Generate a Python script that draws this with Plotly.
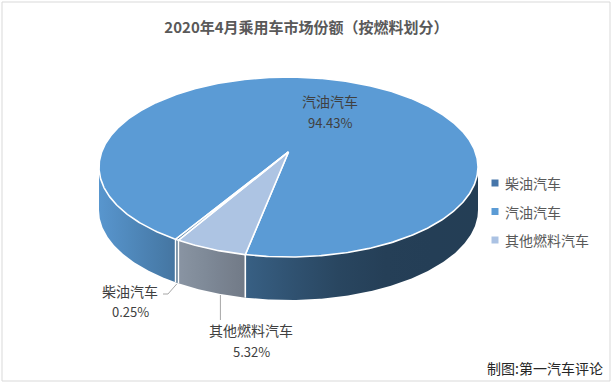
import numpy as np
import plotly.graph_objects as go

# ---------------- data ----------------
categories = ["柴油汽车", "汽油汽车", "其他燃料汽车"]
shares = [0.25, 94.43, 5.32]
value_labels = ["0.25%", "94.43%", "5.32%"]
title_text = "2020年4月乘用车市场份额（按燃料划分）"
source_text = "制图:第一汽车评论"

# ---------------- style ----------------
top_colors = ["#41719c", "#5b9bd5", "#adc4e3"]
legend_colors = ["#4676aa", "#5b9bd5", "#abc2e3"]
W, H = 613, 383
CX, CY, RX, RY = 288.5, 167.0, 189.5, 90.0
A = -0.167            # perspective shift of the pie centre
S = np.sqrt(1 - A * A)
DEPTH = 43
ROT = 210.3           # start angle of first slice (deg, clockwise from 12 o'clock)
FONT = "Noto Sans CJK SC"
LEG_X, LEG_Y0, LEG_DY = 495, 183, 28.5

def proj(theta_deg):
    t = np.radians(np.asarray(theta_deg, dtype=float))
    u = np.sin(t)
    v = -np.cos(t)
    d = 1 + A * v
    X = S * u / d
    Y = (v + A) / d
    return CX + RX * X, CY + RY * Y

# side shading factor as a function of normalised x
shade_x = [-1.0, -0.6, -0.22, 0.2, 0.45, 1.0]
shade_f = [0.97, 0.76, 0.62, 0.47, 0.41, 0.40]

def hex2rgb(h):
    h = h.lstrip("#")
    return [int(h[i:i + 2], 16) for i in (0, 2, 4)]

def shaded(hexc, xn, grey=0.0):
    f = np.interp(xn, shade_x, shade_f)
    r, g, b = hex2rgb(hexc)
    m = (r + g + b) / 3
    r, g, b = [(c * (1 - grey) + m * grey) * f for c in (r, g, b)]
    return "rgb(%d,%d,%d)" % (r, g, b)

side_grey = [0.0, 0.0, 0.35]

# slice angles from the data
total = sum(shares)
spans = [s / total * 360 for s in shares]
starts = [ROT + sum(spans[:i]) for i in range(len(spans))]
ends = [starts[i] + spans[i] for i in range(len(spans))]

vis_lo = np.degrees(np.arccos(A))
vis_hi = 360 - vis_lo

fig = go.Figure()

# ---- side walls ----
boundary_angles = []
for i, cat in enumerate(categories):
    s0, e0 = starts[i], ends[i]
    for k in range(0, 3):
        lo = max(s0, vis_lo + 360 * k)
        hi = min(e0, vis_hi + 360 * k)
        if hi <= lo:
            continue
        n = max(3, int((hi - lo) * 2))
        th = np.linspace(lo, hi, n)
        x, y = proj(th)
        px = np.concatenate([x, x[::-1], x[:1]])
        py = np.concatenate([y, (y + DEPTH)[::-1], y[:1]])
        xn0 = (x.min() - CX) / RX
        xn1 = (x.max() - CX) / RX
        stops = np.linspace(0, 1, 6)
        cs = [[float(sv), shaded(top_colors[i], xn0 + (xn1 - xn0) * sv, side_grey[i])] for sv in stops]
        fig.add_trace(go.Scatter(
            x=px, y=py, mode="lines", fill="toself",
            line=dict(width=0, color="rgba(0,0,0,0)"),
            fillgradient=dict(type="horizontal", colorscale=cs),
            hoverinfo="skip", showlegend=False))
    for ang in (s0, e0):
        a = ang % 360
        if vis_lo <= a <= vis_hi:
            boundary_angles.append(a)

# white dividing lines on the side
for a in sorted(set(np.round(boundary_angles, 3))):
    bx, by = proj([a])
    fig.add_trace(go.Scatter(
        x=[bx[0], bx[0]], y=[by[0], by[0] + DEPTH], mode="lines",
        line=dict(color="white", width=1.6), hoverinfo="skip", showlegend=False))

# ---- top surface slices ----
apx, apy = CX, CY + RY * A
order = [1, 2, 0]
for i in order:
    n = max(3, int(spans[i] * 2))
    th = np.linspace(starts[i], ends[i], n)
    x, y = proj(th)
    px = np.concatenate([[apx], x, [apx]])
    py = np.concatenate([[apy], y, [apy]])
    fig.add_trace(go.Scatter(
        x=px, y=py, mode="lines", fill="toself", fillcolor=top_colors[i],
        line=dict(color="white", width=1.6), hoverinfo="skip", showlegend=False))

# ---- legend (symbols + texts) ----
leg_y = [LEG_Y0 + LEG_DY * i for i in range(len(categories))]
fig.add_trace(go.Scatter(
    x=[LEG_X] * len(categories), y=leg_y, mode="markers",
    marker=dict(symbol="square", size=7, color=legend_colors, line=dict(width=0)),
    hoverinfo="skip", showlegend=False))
for i, cat in enumerate(categories):
    fig.add_annotation(x=LEG_X + 8, y=leg_y[i], text=cat, showarrow=False, xref="x", yref="y",
                       xanchor="left", yanchor="middle",
                       font=dict(family=FONT, size=14, color="#595959"))

# ---- data labels ----
label_pos = {0: (130, 291, 311), 1: (330, 101, 122), 2: (251, 330, 351)}
for i, cat in enumerate(categories):
    lx, ly1, ly2 = label_pos[i]
    fig.add_annotation(x=lx, y=ly1, text=cat, showarrow=False, xref="x", yref="y",
                       font=dict(family=FONT, size=14, color="#404040"))
    fig.add_annotation(x=lx, y=ly2, text=value_labels[i], showarrow=False, xref="x", yref="y",
                       font=dict(family=FONT, size=13, color="#404040"))

# leader lines from slice edges to labels
m0 = (starts[0] + ends[0]) / 2
lx0, ly0 = proj([m0])
fig.add_trace(go.Scatter(
    x=[lx0[0], lx0[0] - 9, 163], y=[ly0[0] + DEPTH + 1, 294, 294], mode="lines",
    line=dict(color="#a6a6a6", width=1), hoverinfo="skip", showlegend=False))
m2 = starts[2] + spans[2] * 0.35
lx2, ly2 = proj([m2])
fig.add_trace(go.Scatter(
    x=[lx2[0], lx2[0]], y=[ly2[0] + DEPTH + 1, 320], mode="lines",
    line=dict(color="#a6a6a6", width=1), hoverinfo="skip", showlegend=False))

# source text
fig.add_annotation(x=605, y=368, text=source_text, showarrow=False, xref="x", yref="y",
                   xanchor="right", font=dict(family=FONT, size=14, color="#262626"))

# frame
fig.add_shape(type="rect", xref="x", yref="y", x0=2, y0=2, x1=610, y1=381,
              line=dict(color="#d9d9d9", width=1), fillcolor="rgba(0,0,0,0)", layer="below")

fig.update_layout(
    width=W, height=H,
    margin=dict(l=0, r=0, t=0, b=0),
    paper_bgcolor="white", plot_bgcolor="white",
    title=dict(text="<b>" + title_text + "</b>", x=0.5, xanchor="center",
               y=1 - 28 / H, yanchor="middle",
               font=dict(family=FONT, size=15, color="#595959")),
    xaxis=dict(range=[0, W], visible=False, fixedrange=True),
    yaxis=dict(range=[H, 0], visible=False, fixedrange=True),
    showlegend=False,
    font=dict(family=FONT),
)

fig.write_html("out.html", config={"displayModeBar": False},
               post_script="document.body.style.margin='0';document.body.style.overflow='hidden';")
